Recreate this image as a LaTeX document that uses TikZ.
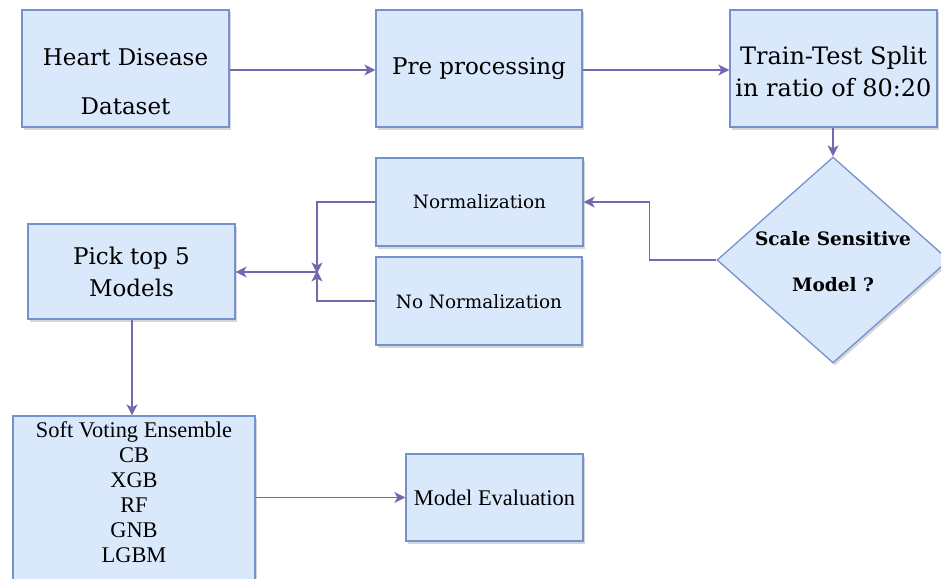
\documentclass[tikz,border=0pt]{standalone}
\usepackage{fontspec}
\setmainfont{DejaVu Serif}
\newfontfamily\tnr{Liberation Serif}
\usetikzlibrary{arrows.meta,shapes.geometric,shadows}

\definecolor{boxfill}{RGB}{218,232,252}
\definecolor{boxline}{RGB}{116,146,204}
\definecolor{flow}{RGB}{116,104,176}

\tikzset{
  shade/.style={drop shadow={shadow xshift=2pt,shadow yshift=-2.5pt,fill=black!45,opacity=0.35}},
  box/.style={draw=boxline,fill=boxfill,line width=1.3pt,inner sep=0pt,shade},
  decision/.style={diamond,draw=boxline,fill=boxfill,line width=1.3pt,inner sep=0pt,shade},
  lbl/.style={inner sep=0pt,text=black},
  big/.style={lbl,font=\fontsize{23}{26}\selectfont},
  mid/.style={lbl,font=\fontsize{18.4}{21}\selectfont},
  bmid/.style={lbl,font=\fontsize{18.5}{21}\selectfont\bfseries},
  tms/.style={lbl,font=\tnr\fontsize{22.4}{24.9}\selectfont,align=center},
  flowline/.style={draw=flow,line width=1.6pt},
  flowarrow/.style={flowline,-{Stealth[length=11pt,width=11pt,inset=3pt]}}
}

\begin{document}
\begin{tikzpicture}[x=1pt,y=-1pt]
\useasboundingbox (0,0) rectangle (941,578);
\clip (0,0) rectangle (941,578);

% top row
\node[box,minimum width=207pt,minimum height=117pt] (hd) at (125.5,68.5) {};
\node[big] (hdA) at (125.5,57) {Heart Disease};
\node[big] (hdB) at (125.5,106) {Dataset};

\node[box,minimum width=206pt,minimum height=117pt] (pre) at (479,68.5) {};
\node[big] (preA) at (479,69) {Pre processing};

\node[box,minimum width=207pt,minimum height=117pt] (tts) at (833.5,68.5) {};
\node[big,font=\fontsize{24}{27}\selectfont] (ttsA) at (833.5,58) {Train-Test Split};
\node[big,font=\fontsize{24}{27}\selectfont] (ttsB) at (833.5,88) {in ratio of 80:20};

% decision
\node[decision,minimum width=232pt,minimum height=206pt] (dec) at (833,260) {};
\node[bmid] (decA) at (833,239) {Scale Sensitive};
\node[bmid] (decB) at (833,285) {Model ?};

% scaling branches
\node[box,minimum width=207pt,minimum height=88pt] (norm) at (479.5,202) {};
\node[mid] (normA) at (479.5,202) {Normalization};

\node[box,minimum width=206pt,minimum height=88pt] (nonorm) at (479,301) {};
\node[mid] (nonormA) at (479,302) {No Normalization};

% model selection
\node[box,minimum width=207pt,minimum height=95pt] (pick) at (131.5,271.5) {};
\node[big] (pickA) at (131.5,258) {Pick top 5};
\node[big] (pickB) at (131.5,288) {Models};

% ensemble and evaluation
\node[box,minimum width=242pt,minimum height=200pt] (soft) at (134,516) {};
\node[tms,anchor=north] (softA) at (134,422) {Soft Voting Ensemble\\CB\\XGB\\RF\\GNB\\LGBM};

\node[box,minimum width=177pt,minimum height=87pt] (eval) at (494.5,497.5) {};
\node[tms] (evalA) at (494.5,498) {Model Evaluation};

% connectors
\draw[flowarrow] (hd.east |- 0,70) -- (pre.west |- 0,70);
\draw[flowarrow] (pre.east |- 0,70) -- (tts.west |- 0,70);
\draw[flowarrow] (tts.south -| dec.north) -- (dec.north);
\draw[flowarrow] (dec.west) -- ++(-67,0) |- (norm.east);

\coordinate (join) at (317,272);
\draw[flowarrow] (norm.west) -| ([yshift=-1.5pt]join);
\draw[flowarrow] (nonorm.west) -| ([yshift=1.5pt]join);
\draw[flowarrow] (join) -- (join -| pick.east);

\draw[flowarrow] (pick.south -| 132,0) -- (soft.north -| 132,0);
\draw[flowarrow] (eval.west -| soft.east) -- (eval.west);
\end{tikzpicture}
\end{document}
